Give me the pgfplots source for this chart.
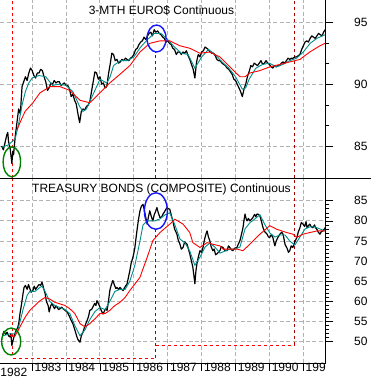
\documentclass[border=0pt]{standalone}
\usepackage{fontspec}
\setmainfont{Liberation Sans}
\usepackage{pgfplots}
\pgfplotsset{compat=1.18}
\definecolor{tealc}{RGB}{0,140,140}
\definecolor{redc}{RGB}{255,0,0}
\definecolor{darkredc}{RGB}{170,0,0}
\definecolor{gridc}{RGB}{178,178,178}
\definecolor{greenc}{RGB}{0,128,0}
\definecolor{bluec}{RGB}{20,20,255}
\tikzset{gl/.style={draw=gridc, dash pattern=on 4pt off 2.5pt, line width=1pt}}
\begin{document}
\begin{tikzpicture}
\path[use as bounding box] (0,0) rectangle (371pt,379pt);
\pgfplotsset{
  panel/.style={
    scale only axis, anchor=south west, width=325.7pt,
    xmin=1982.05, xmax=1991.66,
    axis line style={draw=none},
    xtick={1983,...,1991},
    ytick pos=right, yticklabel pos=right,
    tick align=outside,
    major tick length=7.7pt, minor tick length=3.7pt,
    /pgf/number format/assume math mode=true,
    tick label style={font=\fontsize{12}{14}\selectfont},
    yticklabel style={anchor=west, inner sep=0pt, xshift=20.5pt},
    tick style={draw=black, line width=0.6pt},
    clip=true,
  },
  blk/.style={black, line width=1.2pt, line join=round},
  tl/.style={tealc, line width=0.9pt},
  rd/.style={redc, line width=0.9pt},
}
% ---------- top panel ----------
\begin{axis}[panel, at={(0,200.7pt)}, height=178.3pt,
  ymin=82.4, ymax=96.8, ytick={85,90,95}, minor y tick num=2,
  xticklabels={}, major x tick style={draw=none}]
\pgfplotsinvokeforeach{1983,1984,1985,1986,1987,1988,1989,1990,1991}{\draw[gl] (axis cs:#1,82.4) -- (axis cs:#1,96.8);}
\pgfplotsinvokeforeach{85,90,95}{\draw[gl] (axis cs:1982.05,#1) -- (axis cs:1991.66,#1);}
\draw[redc, dash pattern=on 3pt off 3pt, line width=0.8pt] (axis cs:1982.41,82.4) -- (axis cs:1982.41,96.8);
\draw[darkredc, dash pattern=on 3pt off 3pt, line width=0.8pt] (axis cs:1990.73,82.4) -- (axis cs:1990.73,96.8);
\draw[bluec, dash pattern=on 3pt off 3pt, line width=0.8pt] (axis cs:1986.64,82.4) -- (axis cs:1986.64,92.6);
\addplot[blk] coordinates {
(1982.10,85.0)(1982.15,84.7)(1982.20,85.3)(1982.25,85.9)(1982.28,86.1)(1982.30,85.4)(1982.35,84.8)(1982.40,83.6)(1982.43,84.6)(1982.45,84.3)
(1982.50,85.8)(1982.55,86.9)(1982.60,88.0)(1982.65,87.6)(1982.70,89.8)(1982.75,90.2)(1982.80,90.6)(1982.85,90.3)(1982.90,90.9)(1982.95,91.3)
(1983.00,91.1)(1983.05,90.7)(1983.10,90.5)(1983.15,90.9)(1983.20,90.9)(1983.25,91.2)(1983.30,91.1)(1983.35,90.6)(1983.40,90.2)(1983.45,89.5)
(1983.50,89.7)(1983.55,90.1)(1983.60,90.0)(1983.65,90.3)(1983.70,90.1)(1983.75,90.2)(1983.80,90.2)(1983.85,89.9)(1983.90,90.0)(1983.95,90.1)
(1984.00,89.9)(1984.05,89.9)(1984.10,89.6)(1984.15,89.0)(1984.20,89.2)(1984.25,88.7)(1984.30,88.4)(1984.35,87.6)(1984.40,86.9)(1984.45,87.8)
(1984.50,88.0)(1984.55,87.9)(1984.60,88.2)(1984.65,88.3)(1984.70,88.6)(1984.75,89.4)(1984.80,90.2)(1984.85,91.0)(1984.90,90.9)(1984.95,90.4)
(1985.00,90.6)(1985.05,90.0)(1985.10,90.1)(1985.15,89.7)(1985.20,89.8)(1985.25,90.8)(1985.30,91.6)(1985.35,92.5)(1985.40,92.4)(1985.45,91.9)
(1985.50,92.0)(1985.55,91.7)(1985.60,91.8)(1985.65,92.0)(1985.70,91.9)(1985.75,92.1)(1985.80,92.0)(1985.85,91.9)(1985.90,92.1)(1985.95,92.2)
(1986.00,92.4)(1986.05,92.8)(1986.10,92.9)(1986.15,93.2)(1986.20,93.4)(1986.25,93.5)(1986.30,93.8)(1986.35,93.6)(1986.40,93.9)(1986.45,94.1)
(1986.50,94.2)(1986.55,93.9)(1986.60,94.4)(1986.65,94.2)(1986.70,94.3)(1986.75,94.1)(1986.80,94.0)(1986.85,93.8)(1986.90,93.7)(1986.95,93.4)
(1987.00,93.5)(1987.05,93.3)(1987.10,93.2)(1987.15,92.9)(1987.20,92.8)(1987.25,92.4)(1987.30,92.6)(1987.35,92.6)(1987.40,92.4)(1987.45,92.6)
(1987.50,92.5)(1987.55,92.7)(1987.60,92.3)(1987.65,92.0)(1987.70,91.6)(1987.75,91.2)(1987.80,90.5)(1987.85,91.8)(1987.90,92.4)(1987.95,92.2)
(1988.00,92.6)(1988.05,92.7)(1988.10,93.0)(1988.15,92.9)(1988.20,92.8)(1988.25,92.6)(1988.30,92.5)(1988.35,92.5)(1988.40,92.3)(1988.45,92.0)
(1988.50,91.9)(1988.55,91.9)(1988.60,91.7)(1988.65,91.6)(1988.70,91.5)(1988.75,91.3)(1988.80,91.2)(1988.85,91.0)(1988.90,90.8)(1988.95,90.4)
(1989.00,90.3)(1989.05,90.0)(1989.10,89.7)(1989.15,89.4)(1989.20,89.0)(1989.25,89.6)(1989.30,90.0)(1989.35,90.6)(1989.40,91.0)(1989.45,91.5)
(1989.50,91.4)(1989.55,91.7)(1989.60,91.6)(1989.65,91.5)(1989.70,91.7)(1989.75,91.9)(1989.80,91.6)(1989.85,91.7)(1989.90,91.9)(1989.95,91.7)
(1990.00,91.6)(1990.05,91.4)(1990.10,91.3)(1990.15,91.5)(1990.20,91.4)(1990.25,91.5)(1990.30,91.5)(1990.35,91.7)(1990.40,91.8)(1990.45,91.7)
(1990.50,91.9)(1990.55,92.1)(1990.60,92.0)(1990.65,92.1)(1990.70,92.1)(1990.75,92.2)(1990.80,92.2)(1990.85,92.3)(1990.90,92.4)(1990.95,92.8)
(1991.00,93.1)(1991.05,93.4)(1991.10,93.5)(1991.15,93.4)(1991.20,93.7)(1991.25,93.9)(1991.30,93.8)(1991.35,93.7)(1991.40,93.9)(1991.45,94.1)
(1991.50,94.0)(1991.55,93.9)(1991.60,94.2)(1991.64,94.4)
};
\addplot[tl] coordinates {
(1982.10,84.9)(1982.30,85.1)(1982.50,85.6)(1982.60,86.8)(1982.70,88.3)(1982.80,89.4)(1982.90,90.1)(1983.00,90.5)(1983.20,90.7)(1983.40,90.6)
(1983.60,89.9)(1983.80,90.0)(1984.00,89.9)(1984.20,89.4)(1984.40,88.2)(1984.50,87.8)(1984.60,88.0)(1984.80,89.2)(1985.00,90.4)(1985.20,90.1)
(1985.30,90.6)(1985.40,91.5)(1985.60,91.9)(1985.80,91.9)(1986.00,92.2)(1986.20,93.0)(1986.40,93.6)(1986.60,94.1)(1986.80,94.1)(1987.00,93.6)
(1987.20,93.0)(1987.40,92.5)(1987.60,92.4)(1987.80,91.3)(1988.00,92.2)(1988.20,92.8)(1988.40,92.4)(1988.60,91.8)(1988.80,91.3)(1989.00,90.6)
(1989.20,89.6)(1989.30,89.7)(1989.40,90.4)(1989.60,91.3)(1989.80,91.6)(1990.00,91.7)(1990.20,91.4)(1990.40,91.6)(1990.60,91.9)(1990.80,92.1)
(1991.00,92.6)(1991.20,93.3)(1991.40,93.7)(1991.64,94.0)
};
\addplot[rd] coordinates {
(1982.55,86.3)(1982.64,86.9)(1982.79,87.8)(1983.02,88.5)(1983.23,89.3)(1983.52,89.8)(1983.82,89.8)(1984.11,89.5)(1984.41,88.7)(1984.70,88.5)
(1985.00,89.3)(1985.29,90.1)(1985.59,90.8)(1985.88,91.5)(1986.18,92.6)(1986.47,93.3)(1986.77,93.5)(1987.06,93.5)(1987.36,93.1)(1987.65,92.9)
(1987.95,92.5)(1988.24,92.6)(1988.54,92.2)(1988.83,91.4)(1989.13,90.6)(1989.28,90.6)(1989.42,90.9)(1989.72,91.1)(1990.01,91.4)(1990.31,91.6)
(1990.60,91.8)(1990.90,92.0)(1991.19,92.6)(1991.49,93.1)(1991.64,93.3)
};
\draw[greenc, line width=1.4pt] (axis cs:1982.40,83.73) ellipse [x radius=8.7pt, y radius=15pt];
\draw[bluec, line width=1.4pt] (axis cs:1986.67,93.69) ellipse [x radius=9.5pt, y radius=13.5pt];
\end{axis}
% ---------- bottom panel ----------
\begin{axis}[panel, at={(0,16pt)}, height=184.7pt,
  ymin=44.74, ymax=90.56, ytick={50,55,...,85}, minor y tick num=4,
  xtick pos=bottom,
  xticklabels={1983,1984,1985,1986,1987,1988,1989,1990,199},
  major x tick style={draw=black, line width=0.8pt},
  x tick label style={anchor=north west, inner sep=0pt, xshift=2.2pt, yshift=8pt}]
\pgfplotsinvokeforeach{1983,1984,1985,1986,1987,1988,1989,1990,1991}{\draw[gl] (axis cs:#1,44.74) -- (axis cs:#1,90.56);}
\pgfplotsinvokeforeach{50,55,60,65,70,75,80,85}{\draw[gl] (axis cs:1982.05,#1) -- (axis cs:1991.66,#1);}
\draw[redc, dash pattern=on 3pt off 3pt, line width=0.8pt] (axis cs:1982.41,90.56) -- (axis cs:1982.41,46.0) -- (axis cs:1986.64,46.0);
\draw[bluec, dash pattern=on 3pt off 3pt, line width=0.8pt] (axis cs:1986.64,46.0) -- (axis cs:1986.64,77.7);
\draw[redc, dash pattern=on 3pt off 3pt, line width=0.8pt] (axis cs:1986.64,49.2) -- (axis cs:1990.73,49.2);
\draw[darkredc, dash pattern=on 3pt off 3pt, line width=0.8pt] (axis cs:1990.73,49.2) -- (axis cs:1990.73,90.56);
\addplot[blk] coordinates {
(1982.12,51.6)(1982.17,52.6)(1982.22,51.8)(1982.26,52.4)(1982.30,51.5)(1982.34,51.2)(1982.37,52.0)(1982.40,49.1)(1982.44,50.5)(1982.49,52.1)
(1982.54,53.0)(1982.58,53.7)(1982.61,55.0)(1982.64,57.0)(1982.67,58.5)(1982.70,60.2)(1982.73,62.0)(1982.76,63.5)(1982.80,64.0)(1982.85,63.0)
(1982.89,64.2)(1982.93,63.2)(1982.97,62.3)(1983.02,62.7)(1983.06,63.8)(1983.10,63.0)(1983.14,63.5)(1983.20,64.2)(1983.25,64.0)(1983.29,64.8)
(1983.33,63.5)(1983.38,62.0)(1983.42,60.0)(1983.47,59.0)(1983.50,57.4)(1983.54,58.8)(1983.58,59.5)(1983.61,59.0)(1983.66,58.2)(1983.70,58.9)
(1983.73,58.6)(1983.78,58.0)(1983.82,58.2)(1983.87,58.6)(1983.91,58.2)(1983.97,57.8)(1984.03,57.4)(1984.07,56.8)(1984.11,56.1)(1984.15,55.3)
(1984.20,54.5)(1984.25,53.2)(1984.32,51.2)(1984.36,50.4)(1984.41,49.9)(1984.45,51.5)(1984.50,52.4)(1984.55,53.8)(1984.62,55.3)(1984.66,56.2)
(1984.70,57.8)(1984.75,58.0)(1984.79,58.6)(1984.84,59.5)(1984.88,59.0)(1984.91,60.2)(1984.96,59.4)(1985.00,58.6)(1985.04,57.7)(1985.09,56.9)
(1985.14,57.8)(1985.17,58.2)(1985.21,57.8)(1985.25,60.0)(1985.29,62.7)(1985.33,64.0)(1985.38,65.2)(1985.43,64.0)(1985.47,63.2)(1985.50,63.5)
(1985.55,63.0)(1985.59,63.5)(1985.63,63.1)(1985.68,62.7)(1985.73,63.5)(1985.80,64.4)(1985.84,66.0)(1985.88,67.6)(1985.92,69.5)(1985.97,70.9)
(1986.00,72.0)(1986.03,73.4)(1986.06,75.5)(1986.09,77.5)(1986.13,80.0)(1986.18,82.5)(1986.22,83.6)(1986.27,84.1)(1986.30,83.0)(1986.33,81.7)
(1986.36,80.5)(1986.39,79.2)(1986.43,81.0)(1986.47,82.5)(1986.51,81.2)(1986.56,80.0)(1986.60,81.5)(1986.64,82.3)(1986.68,83.3)(1986.72,82.0)
(1986.77,80.8)(1986.82,81.0)(1986.86,81.7)(1986.90,82.2)(1986.94,82.8)(1986.98,83.3)(1987.02,83.0)(1987.06,82.9)(1987.10,81.5)(1987.15,80.0)
(1987.20,78.0)(1987.27,76.7)(1987.31,75.2)(1987.36,74.2)(1987.40,73.0)(1987.45,73.4)(1987.50,74.8)(1987.57,74.2)(1987.61,73.0)(1987.65,71.8)
(1987.70,70.0)(1987.74,68.5)(1987.77,66.5)(1987.80,64.4)(1987.83,67.5)(1987.86,69.3)(1987.90,71.0)(1987.95,72.6)(1988.00,72.2)(1988.04,73.4)
(1988.07,74.8)(1988.10,75.9)(1988.13,76.8)(1988.16,77.5)(1988.20,76.0)(1988.24,75.1)(1988.28,73.6)(1988.33,72.6)(1988.37,73.0)(1988.41,71.6)
(1988.45,71.8)(1988.50,72.3)(1988.54,72.6)(1988.58,73.6)(1988.63,73.4)(1988.68,72.7)(1988.75,72.6)(1988.79,73.8)(1988.83,73.4)(1988.88,72.8)
(1988.92,72.6)(1988.97,73.2)(1989.04,73.4)(1989.08,74.2)(1989.13,75.1)(1989.17,76.5)(1989.22,78.3)(1989.25,80.2)(1989.28,81.7)(1989.31,80.6)
(1989.34,80.0)(1989.38,80.6)(1989.42,80.0)(1989.47,80.4)(1989.51,80.8)(1989.56,81.6)(1989.60,81.0)(1989.63,81.7)(1989.68,81.6)(1989.72,81.2)
(1989.76,80.0)(1989.81,78.3)(1989.86,77.3)(1989.93,76.7)(1989.97,76.0)(1990.01,75.9)(1990.06,76.6)(1990.10,75.9)(1990.13,74.8)(1990.16,73.8)
(1990.20,75.0)(1990.25,75.9)(1990.31,76.7)(1990.36,77.2)(1990.40,76.7)(1990.43,75.5)(1990.46,74.2)(1990.52,73.2)(1990.56,72.2)(1990.60,72.6)
(1990.64,73.8)(1990.69,73.4)(1990.75,74.8)(1990.81,75.9)(1990.85,77.2)(1990.90,78.3)(1990.94,79.6)(1990.99,79.2)(1991.04,78.6)(1991.08,79.8)
(1991.11,78.3)(1991.15,78.8)(1991.19,79.2)(1991.23,78.6)(1991.28,78.3)(1991.33,79.0)(1991.36,78.3)(1991.40,77.9)(1991.44,77.2)(1991.49,76.7)
(1991.53,77.3)(1991.58,77.5)(1991.62,78.0)(1991.64,78.3)
};
\addplot[tl] coordinates {
(1982.14,51.5)(1982.34,52.0)(1982.49,52.0)(1982.58,53.0)(1982.64,55.0)(1982.73,58.0)(1982.85,61.5)(1982.93,62.5)(1983.08,62.5)(1983.23,63.5)
(1983.29,63.8)(1983.38,62.5)(1983.52,60.0)(1983.67,59.0)(1983.82,58.5)(1983.97,58.0)(1984.11,57.0)(1984.26,54.0)(1984.41,51.5)(1984.56,53.0)
(1984.70,55.5)(1984.85,57.5)(1985.00,58.5)(1985.15,58.0)(1985.29,60.0)(1985.44,62.5)(1985.59,63.0)(1985.74,63.0)(1985.88,65.0)(1986.03,69.0)
(1986.18,75.0)(1986.27,79.0)(1986.39,80.0)(1986.47,80.0)(1986.62,80.0)(1986.77,80.5)(1986.92,81.5)(1987.06,82.0)(1987.21,79.0)(1987.36,75.5)
(1987.51,74.5)(1987.65,72.5)(1987.80,69.0)(1987.95,71.0)(1988.10,73.5)(1988.24,74.5)(1988.39,73.5)(1988.54,72.0)(1988.69,72.5)(1988.83,73.0)
(1988.98,73.0)(1989.13,73.5)(1989.28,78.0)(1989.42,79.5)(1989.57,80.5)(1989.72,81.5)(1989.87,79.0)(1990.01,77.0)(1990.16,76.0)(1990.31,76.5)
(1990.46,76.5)(1990.60,75.0)(1990.75,74.0)(1990.90,76.0)(1991.05,78.0)(1991.19,78.5)(1991.34,78.5)(1991.49,78.0)(1991.64,77.5)
};
\addplot[rd] coordinates {
(1982.34,51.6)(1982.49,51.4)(1982.64,53.7)(1982.79,56.1)(1982.93,57.8)(1983.08,59.0)(1983.23,60.2)(1983.38,61.0)(1983.52,60.6)(1983.67,59.8)
(1983.82,59.4)(1983.97,59.0)(1984.11,58.2)(1984.26,57.0)(1984.41,54.5)(1984.56,53.7)(1984.70,54.5)(1984.85,55.7)(1985.00,57.0)(1985.15,57.0)
(1985.29,57.8)(1985.44,59.0)(1985.59,59.8)(1985.74,61.0)(1985.88,62.7)(1986.18,66.0)(1986.39,70.9)(1986.56,75.1)(1986.77,77.1)(1987.06,79.2)
(1987.21,80.4)(1987.45,79.2)(1987.65,77.1)(1987.74,74.6)(1987.95,73.4)(1988.16,74.6)(1988.33,74.2)(1988.54,73.8)(1988.63,73.0)(1989.04,73.0)
(1989.22,72.6)(1989.42,74.2)(1989.72,76.7)(1990.01,78.8)(1990.22,77.9)(1990.51,77.1)(1990.69,76.7)(1990.81,75.9)(1990.99,76.7)(1991.19,77.1)
(1991.40,77.5)(1991.64,77.5)
};
\draw[greenc, line width=1.4pt] (axis cs:1982.38,50.07) ellipse [x radius=9.5pt, y radius=13.5pt];
\draw[bluec, line width=1.4pt] (axis cs:1986.65,82.44) ellipse [x radius=11.5pt, y radius=18.3pt];
\end{axis}
% frame lines
\draw[black, line width=0.8pt] (0,200.7pt) -- (371pt,200.7pt);
\draw[black, line width=0.8pt] (325.7pt,16pt) -- (325.7pt,379pt);
\draw[black, line width=0.8pt] (0,16pt) -- (325.7pt,16pt);
\node[anchor=north west, inner sep=0pt, font=\fontsize{12}{14}\selectfont] at (0.3pt,11pt) {1982};
\node[anchor=base, inner sep=0pt, font=\fontsize{12}{14}\selectfont] at (161.5pt,364pt) {3-MTH EURO\$ Continuous};
\node[anchor=base, inner sep=0pt, font=\fontsize{12}{14}\selectfont] at (161.5pt,186.7pt) {TREASURY BONDS (COMPOSITE) Continuous};
\end{tikzpicture}
\end{document}
